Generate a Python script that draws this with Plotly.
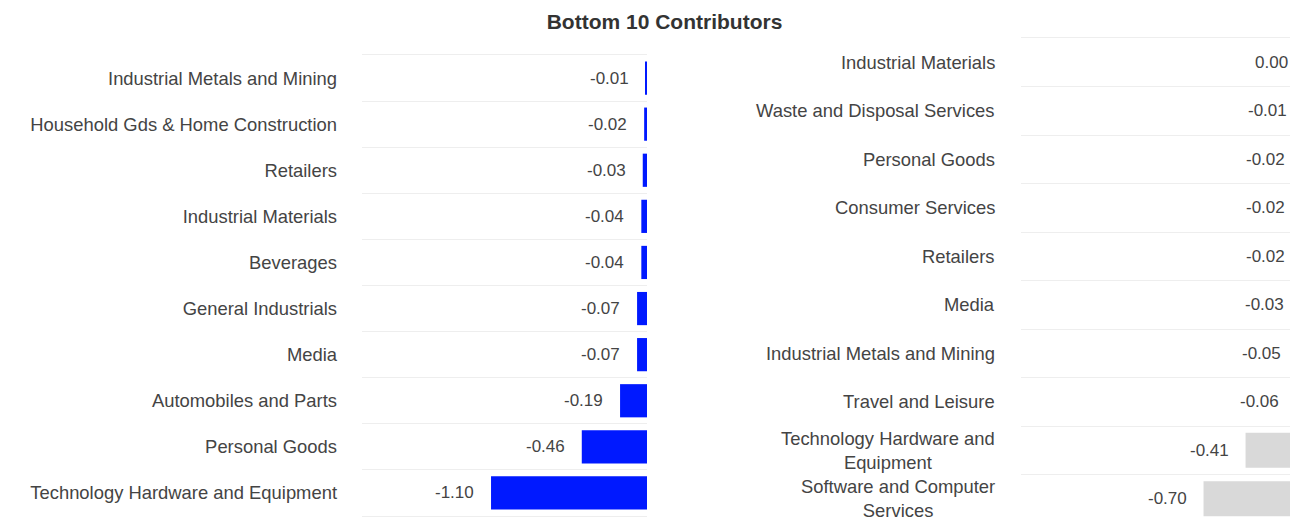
import plotly.graph_objects as go

# ---- data ----
left_categories = [
    "Industrial Metals and Mining",
    "Household Gds & Home Construction",
    "Retailers",
    "Industrial Materials",
    "Beverages",
    "General Industrials",
    "Media",
    "Automobiles and Parts",
    "Personal Goods",
    "Technology Hardware and Equipment",
]
left_values = [-0.01, -0.02, -0.03, -0.04, -0.04, -0.07, -0.07, -0.19, -0.46, -1.10]

right_categories = [
    "Industrial Materials",
    "Waste and Disposal Services",
    "Personal Goods",
    "Consumer Services",
    "Retailers",
    "Media",
    "Industrial Metals and Mining",
    "Travel and Leisure",
    "Technology Hardware and<br>Equipment",
    "Software and Computer<br>Services",
]
right_values = [0.00, -0.01, -0.02, -0.02, -0.02, -0.03, -0.05, -0.06, -0.41, -0.70]

title_text = "Bottom 10 Contributors"

# ---- style ----
FONT = "Liberation Sans, Arial, sans-serif"
TEXT_COLOR = "#444444"
LEFT_COLOR = "#0019ff"
RIGHT_COLOR = "#d9d9d9"
GRID_COLOR = "#eeeeee"
W, H = 1297, 515
LABEL_SIZE = 18.4
VALUE_SIZE = 17

fig = go.Figure()
fig.add_trace(go.Bar(x=left_values, y=left_categories, orientation="h",
                     marker=dict(color=LEFT_COLOR, line=dict(width=0)),
                     xaxis="x", yaxis="y", hoverinfo="x+y"))
fig.add_trace(go.Bar(x=right_values, y=right_categories, orientation="h",
                     marker=dict(color=RIGHT_COLOR, line=dict(width=0)),
                     xaxis="x2", yaxis="y2", hoverinfo="x+y"))

annotations = []
# value labels, placed left of each bar end
for cats, vals, xr, yr in ((left_categories, left_values, "x", "y"),
                           (right_categories, right_values, "x2", "y2")):
    for c, v in zip(cats, vals):
        annotations.append(dict(x=v, y=c, xref=xr, yref=yr, text=f"{v:.2f}",
                                showarrow=False, xanchor="right", yanchor="middle",
                                xshift=-16, borderpad=0,
                                font=dict(size=VALUE_SIZE, color=TEXT_COLOR, family=FONT)))
# right-panel category labels (wrapped lines centred)
for c in right_categories:
    annotations.append(dict(x=0, xref="x2 domain", y=c, yref="y2", text=c,
                            showarrow=False, xanchor="right", yanchor="middle",
                            align="center", xshift=-25, borderpad=0,
                            font=dict(size=LABEL_SIZE, color=TEXT_COLOR, family=FONT)))

def px_dom(a, b, total):
    return [max(0.0, a / total), min(1.0, b / total)]

xaxis_common = dict(showgrid=False, zeroline=False, showticklabels=False, fixedrange=True,
                    showline=True, mirror=True, linecolor=GRID_COLOR, linewidth=1, ticks="")
yaxis_common = dict(type="category", autorange="reversed", showgrid=True, gridcolor=GRID_COLOR,
                    gridwidth=1, tickson="boundaries", ticks="", showline=False, zeroline=False,
                    ticklabelstandoff=24,
                    tickfont=dict(size=LABEL_SIZE, color=TEXT_COLOR, family=FONT))

fig.update_layout(
    width=W, height=H, autosize=False,
    margin=dict(l=0, r=0, t=0, b=0, pad=0),
    paper_bgcolor="white", plot_bgcolor="white",
    showlegend=False, bargap=0.28,
    font=dict(family=FONT, color=TEXT_COLOR, size=VALUE_SIZE),
    title=dict(text=f"<b>{title_text}</b>", x=656.5 / W, xref="container", xanchor="center",
               y=1 - 14 / H, yref="container", yanchor="middle",
               font=dict(size=21, color="#333333", family=FONT)),
    xaxis=dict(domain=px_dom(354, 639, W), range=[-2.01, 0], anchor="y", **xaxis_common),
    yaxis=dict(domain=[1 - 508 / H, 1 - 47 / H], anchor="x", **yaxis_common),
    xaxis2=dict(domain=px_dom(1013, 1297, W), range=[-1.959, 0], anchor="y2", **xaxis_common),
    yaxis2=dict(domain=[0, 1 - 30 / H], anchor="x2",
                **{**yaxis_common, "showticklabels": False}),
    annotations=annotations,
)

fig.write_html("out.html")
